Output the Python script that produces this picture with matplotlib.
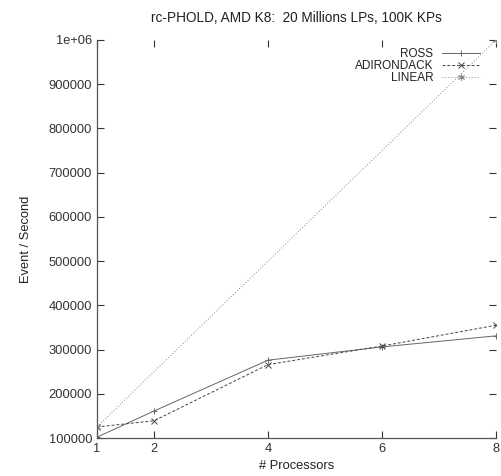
import matplotlib
matplotlib.use("Agg")
import matplotlib.pyplot as plt
from matplotlib.ticker import FixedLocator, FixedFormatter

plt.rcParams['font.family'] = ['Liberation Sans', 'DejaVu Sans']

procs = [1, 2, 4, 6, 8]
ross = [102000, 161000, 276000, 306000, 331000]
adirondack = [125000, 139000, 266000, 308000, 355000]
linear_procs = [1, 8]
linear = [125000, 1000000]

yticks = [100000, 200000, 300000, 400000, 500000, 600000, 700000, 800000, 900000, 1000000]
ytick_labels = ['100000', '200000', '300000', '400000', '500000', '600000', '700000', '800000', '900000', '1e+06']
xticks = [1, 2, 4, 6, 8]

fig = plt.figure(figsize=(5.01, 4.76), dpi=100)
ax = fig.add_axes([0.1936, 0.0798, 0.7964, 0.8362])

ax.plot(procs, ross, color='#666666', lw=0.7, ls='-', marker='+', ms=5, mew=0.7, label='ROSS')
ax.plot(procs, adirondack, color='#444444', lw=0.7, ls=(0, (3, 2)), marker='x', ms=4, mew=0.7, label='ADIRONDACK')
ax.plot(linear_procs, linear, color='#888888', lw=0.7, ls=(0, (1, 2)), marker=(6, 2, 0), ms=5, mew=0.7, label='LINEAR')

ax.set_xlim(1, 8)
ax.set_ylim(100000, 1000000)
ax.xaxis.set_major_locator(FixedLocator(xticks))
ax.yaxis.set_major_locator(FixedLocator(yticks))
ax.yaxis.set_major_formatter(FixedFormatter(ytick_labels))
ax.tick_params(direction='in', length=5, width=0.8, top=True, right=True, labelsize=9.3, colors='#333333')
for s in ['top', 'right']:
    ax.spines[s].set_visible(False)
for s in ['left', 'bottom']:
    ax.spines[s].set_color('#555555')
    ax.spines[s].set_linewidth(0.9)

ax.set_title('rc-PHOLD, AMD K8:  20 Millions LPs, 100K KPs', fontsize=9.8, pad=13, color='#222222')
ax.set_xlabel('# Processors', fontsize=9.3, color='#222222')
ax.set_ylabel('Event / Second', fontsize=9.3, labelpad=12, color='#222222')

leg = ax.legend(loc='upper right', frameon=False, markerfirst=False, fontsize=8.5,
                handlelength=3.2, handletextpad=0.75, labelspacing=0.0,
                borderpad=0, borderaxespad=0,
                bbox_to_anchor=(0.96, 0.98))
for t in leg.get_texts():
    t.set_color('#222222')

fig.savefig('out.png', dpi=100)
